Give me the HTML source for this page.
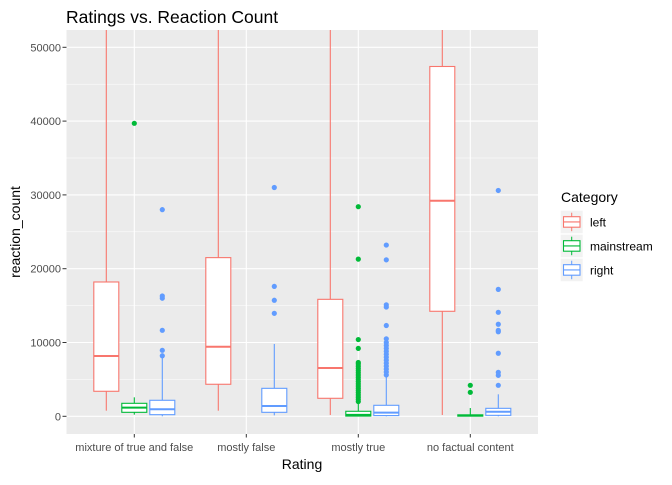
<!DOCTYPE html>
<html><head><meta charset="utf-8"><style>
body{margin:0;background:#fff;font-family:"Liberation Sans",Arial,sans-serif}
svg text{font-family:"Liberation Sans",Arial,sans-serif}
</style></head><body>
<svg id="c" width="672" height="480" xmlns="http://www.w3.org/2000/svg">
<text x="66" y="23" font-size="17.5" fill="#000">Ratings vs. Reaction Count</text>
<rect x="66.5" y="30" width="471.5" height="404" fill="#ebebeb"/>
<g id="grid"></g><g id="marks"></g><g id="axes"></g>
<text x="302" y="469" font-size="14" text-anchor="middle" fill="#000">Rating</text>
<text transform="translate(20,232) rotate(-90)" font-size="14" text-anchor="middle" fill="#000">reaction_count</text>
<g id="legend">
<text x="561" y="202" font-size="14" fill="#000">Category</text>
</g>
</svg>
<script>
const categories=["mixture of true and false","mostly false","mostly true","no factual content"];
const groups=["left","mainstream","right"];
const colors=["#F8766D","#00BA38","#619CFF"];
// [lowWhisker,Q1,median,Q3,highWhisker] per category per group (null = no data)
const leftStats=[[760,3390,8170,18200,60000],[760,4340,9430,21500,60000],[180,2440,6550,15850,60000],[180,14230,29200,47400,60000]];
const mainStats=[[220,540,1170,1760,2570],null,[0,30,200,680,1980],[0,20,100,200,1120]];
const rightStats=[[0,220,950,2170,8170],[130,540,1400,3790,9800],[0,100,490,1490,5550],[0,130,620,1080,2980]];
const leftOut=[[],[],[],[]];
const mainOut=[[39700],[],[2000,2300,2600,2900,3200,3500,3800,4100,4400,4700,5000,5300,5600,5900,6200,6500,6800,7100,7300,9200,10400,21300,28400],[3250,4200]];
const rightOut=[[8200,8940,11650,16000,16300,28000],[13950,15720,17600,31000],[5600,6000,6400,6800,7200,7600,8000,8400,8800,9200,9600,10000,10500,12300,14800,15100,21200,23200],[4200,5550,5960,8540,11460,11650,12470,14090,17200,30600]];
const yTicks=[0,10000,20000,30000,40000,50000];
const yMinor=[5000,15000,25000,35000,45000];
const NS="http://www.w3.org/2000/svg";
const PT=30,PB=434,PL=66.5,PR=538;
const y=v=>Math.max(PT,Math.min(PB,416.3-v*0.00738));
const x=i=>134.3+i*112;
function mk(tag,attrs,parent){const e=document.createElementNS(NS,tag);for(const k in attrs)e.setAttribute(k,attrs[k]);parent.appendChild(e);return e;}
const grid=document.getElementById('grid'),marks=document.getElementById('marks'),axes=document.getElementById('axes');
yMinor.forEach(v=>{const l=mk('line',{x1:PL,x2:PR,y1:y(v),y2:y(v),stroke:'#fff','stroke-width':0.5},grid);

});
yTicks.forEach(v=>{const l=mk('line',{x1:PL,x2:PR,y1:y(v),y2:y(v),stroke:'#fff','stroke-width':1.1},grid);


const t=mk('text',{x:61,y:y(v)+4,'font-size':11,'text-anchor':'end',fill:'#4d4d4d'},axes);t.textContent=v;


const tk=mk('line',{x1:62.5,x2:PL,y1:y(v),y2:y(v),stroke:'#333'},axes);

});
categories.forEach((c,i)=>{const l=mk('line',{x1:x(i),x2:x(i),y1:PT,y2:PB,stroke:'#fff','stroke-width':1.1},grid);


const tk=mk('line',{x1:x(i),x2:x(i),y1:PB,y2:PB+3.5,stroke:'#333'},axes);


const t=mk('text',{x:x(i),y:451,'font-size':11,'text-anchor':'middle',fill:'#4d4d4d'},axes);t.textContent=c;

});
const stats=[leftStats,mainStats,rightStats],outs=[leftOut,mainOut,rightOut];
const clip=mk('clipPath',{id:'pc'},document.getElementById('c'));mk('rect',{x:PL,y:PT,width:PR-PL,height:PB-PT},clip);
marks.setAttribute('clip-path','url(#pc)');
categories.forEach((c,i)=>{groups.forEach((g,j)=>{
 const s=stats[j][i],cx=x(i)+(j-1)*28,w=25,col=colors[j];
 if(!s)return;
 const gg=mk('g',{},marks);
 
 
 mk('line',{x1:cx,x2:cx,y1:y(s[0]),y2:y(s[1]),stroke:col,'stroke-width':1.1},gg);
 mk('line',{x1:cx,x2:cx,y1:y(s[3]),y2:y(s[4]),stroke:col,'stroke-width':1.1},gg);
 mk('rect',{x:cx-w/2,y:y(s[3]),width:w,height:Math.max(0.1,y(s[1])-y(s[3])),fill:'#fff',stroke:col,'stroke-width':1.1},gg);
 mk('line',{x1:cx-w/2,x2:cx+w/2,y1:y(s[2]),y2:y(s[2]),stroke:col,'stroke-width':2},gg);
 outs[j][i].forEach(v=>{const p=mk('circle',{cx:cx,cy:y(v),r:2.6,fill:col},gg);
  
  });
});});
const leg=document.getElementById('legend');
groups.forEach((g,j)=>{const ty=210.7+j*24,col=colors[j];
 const k=mk('g',{},leg);
 
 
 mk('rect',{x:560.7,y:ty,width:22,height:22.5,fill:'#f2f2f2'},k);
 mk('line',{x1:571.7,x2:571.7,y1:ty+2,y2:ty+20.5,stroke:col},k);
 mk('rect',{x:563.5,y:ty+6,width:16.5,height:10.5,fill:'#fff',stroke:col,'stroke-width':1.1},k);
 mk('line',{x1:563.5,x2:580,y1:ty+11.2,y2:ty+11.2,stroke:col,'stroke-width':1.1},k);
 const t=mk('text',{x:590,y:ty+16,'font-size':12,fill:'#000'},k);t.textContent=g;
});
</script>
</body></html>
